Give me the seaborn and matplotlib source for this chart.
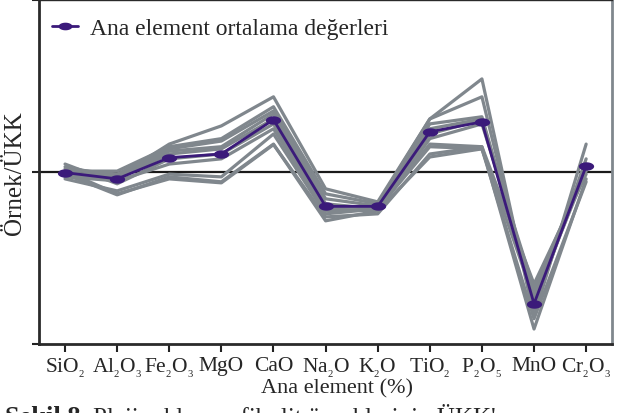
import numpy as np
import pandas as pd
import matplotlib
matplotlib.use("Agg")
import matplotlib.pyplot as plt
import matplotlib.ticker as mtick
from matplotlib.lines import Line2D
import seaborn as sns

WIDTH = 6.19
HEIGHT = 4.14

# oxide labels along the x axis (small subscripts like the print)
oxides = [
    r"SiO$_{{}_2}$", r"Al$_{{}_2}$O$_{{}_3}$", r"Fe$_{{}_2}$O$_{{}_3}$", "MgO",
    "CaO", r"Na$_{{}_2}$O", r"K$_{{}_2}$O", r"TiO$_{{}_2}$",
    r"P$_{{}_2}$O$_{{}_5}$", "MnO", r"Cr$_{{}_2}$O$_{{}_3}$",
]

# sample / UCC ratios
sample_01 = [1.07, 0.935, 1.45, 1.85, 2.73, 0.797, 0.669, 2.03, 3.47, 0.144, 1.45]
sample_02 = [1.01, 1.01, 1.40, 1.56, 2.39, 0.745, 0.652, 2.03, 2.73, 0.160, 1.19]
sample_03 = [1.04, 0.97, 1.36, 1.51, 2.26, 0.697, 0.634, 1.90, 2.09, 0.183, 1.11]
sample_04 = [0.99, 0.935, 1.32, 1.40, 2.17, 0.652, 0.609, 1.78, 2.03, 0.171, 1.07]
sample_05 = [0.96, 0.91, 1.27, 1.36, 2.03, 0.626, 0.626, 1.66, 2.01, 0.195, 1.04]
sample_06 = [1.11, 0.852, 1.19, 1.27, 1.90, 0.609, 0.593, 1.56, 1.90, 0.209, 1.04]
sample_07 = [0.935, 0.886, 1.11, 1.19, 1.78, 0.593, 0.609, 1.45, 1.40, 0.223, 0.97]
sample_08 = [0.91, 0.775, 0.97, 0.935, 1.66, 0.570, 0.609, 1.40, 1.36, 0.183, 1.01]
sample_09 = [0.97, 0.735, 0.935, 0.875, 1.45, 0.519, 0.593, 1.22, 1.36, 0.140, 0.875]
sample_10 = [1.01, 0.745, 0.91, 0.863, 1.44, 0.547, 0.570, 1.27, 1.40, 0.122, 0.91]

mean_values = [0.99, 0.91, 1.21, 1.27, 2.01, 0.63, 0.63, 1.71, 1.95, 0.171, 1.08]

GRAY = "#80878d"
PURPLE = "#3b1a7a"


def build_long_table():
    samples = [
        sample_01, sample_02, sample_03, sample_04, sample_05,
        sample_06, sample_07, sample_08, sample_09, sample_10,
    ]
    rows = []
    for n, values in enumerate(samples):
        for i, v in enumerate(values):
            rows.append({"sample": n, "pos": i, "ratio": v})
    return pd.DataFrame(rows)


def ellipse_marker():
    t = np.linspace(0, 2 * np.pi, 40)
    return np.column_stack([np.cos(t), 0.55 * np.sin(t)])


def create_figure():
    sns.set_style("ticks")
    plt.rcParams["font.family"] = ["Liberation Serif", "DejaVu Serif"]
    plt.rcParams["mathtext.fontset"] = "custom"
    plt.rcParams["mathtext.rm"] = "Liberation Serif"
    plt.rcParams["mathtext.it"] = "Liberation Serif:italic"
    plt.rcParams["mathtext.default"] = "regular"

    df = build_long_table()
    mean_df = pd.DataFrame({"pos": range(len(oxides)), "ratio": mean_values})

    fig = plt.figure(figsize=(WIDTH, HEIGHT), dpi=100)
    ax = fig.add_axes([0.063, 0.167, 0.926, 0.831])

    ax.axhline(1, color="#1a1a1a", linewidth=1.6, zorder=1)

    sns.lineplot(
        data=df, x="pos", y="ratio", units="sample", estimator=None,
        color=GRAY, linewidth=2.3, ax=ax, zorder=2, legend=False,
    )
    sns.lineplot(
        data=mean_df, x="pos", y="ratio", color=PURPLE, linewidth=2.0,
        marker=ellipse_marker(), markersize=11, markeredgewidth=0,
        markerfacecolor=PURPLE, ax=ax, zorder=3, legend=False,
    )

    ax.set_yscale("log")
    ax.set_ylim(0.1, 10)
    ax.set_xlim(-0.5, 10.5)
    ax.yaxis.set_major_locator(mtick.FixedLocator([0.1, 1, 10]))
    ax.yaxis.set_minor_locator(mtick.NullLocator())
    ax.yaxis.set_major_formatter(mtick.NullFormatter())
    ax.yaxis.set_minor_formatter(mtick.NullFormatter())

    ax.set_xticks(range(len(oxides)))
    ax.set_xticklabels(oxides, fontsize=15.5)
    ax.tick_params(axis="x", length=6, width=1.5, color="#222222", pad=3)
    ax.tick_params(axis="y", length=5, width=1.5, color="#222222")

    ax.set_xlabel("Ana element (%)", fontsize=16, labelpad=-1, x=0.52)
    ax.set_ylabel("Örnek/ÜKK", fontsize=18, labelpad=1)

    for side in ["left", "bottom"]:
        ax.spines[side].set_color("#2a2a2a")
        ax.spines[side].set_linewidth(2)
    ax.spines["right"].set_color(GRAY)
    ax.spines["right"].set_linewidth(2)
    ax.spines["top"].set_color("#2a2a2a")
    ax.spines["top"].set_linewidth(1)

    handle = Line2D(
        [], [], color=PURPLE, linewidth=2, marker=ellipse_marker(),
        markersize=10, markerfacecolor=PURPLE, markeredgewidth=0,
    )
    ax.legend(
        [handle], ["Ana element ortalama değerleri"], loc="upper left",
        frameon=False, fontsize=17, handlelength=1.1, handletextpad=0.5,
        borderaxespad=0.35, bbox_to_anchor=(-0.008, 1.0),
    )

    fig.text(
        0.008, -0.008, "Şekil 8.", fontsize=19, fontweight="bold",
        ha="left", va="center",
    )
    fig.text(
        0.15, -0.008, "Plajiyoklas amfibolit örneklerinin ÜKK'ye",
        fontsize=18, ha="left", va="center",
    )

    fig.savefig("out.png", dpi=100)


if __name__ == "__main__":
    create_figure()
